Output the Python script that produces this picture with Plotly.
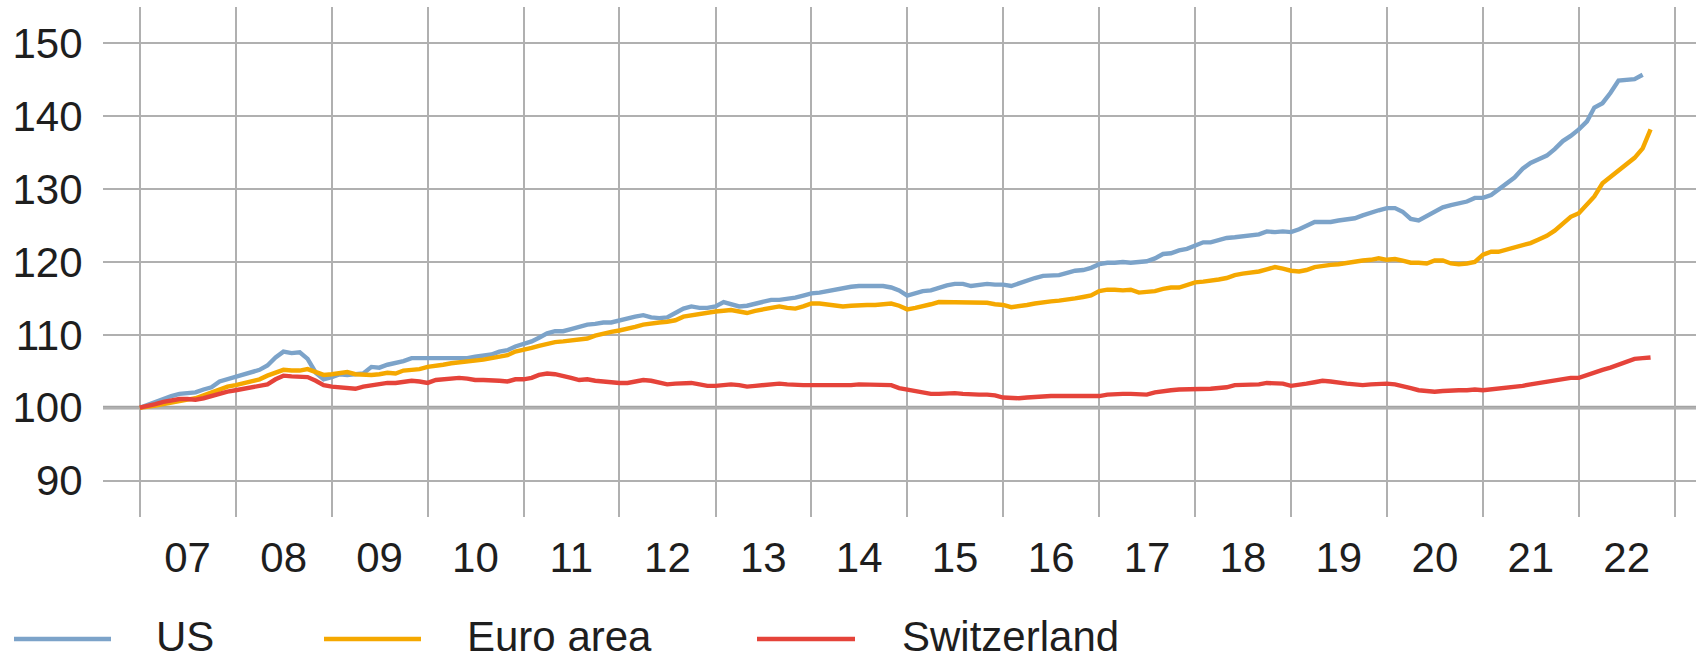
import pandas as pd
import plotly.graph_objects as go

# ---- data (index, Jan 2007 = 100, monthly) ----
year_labels = ["07", "08", "09", "10", "11", "12", "13", "14", "15", "16", "17", "18", "19", "20", "21", "22"]
y_ticks = [90, 100, 110, 120, 130, 140, 150]

us = [
    100.0, 100.4, 100.9, 101.2, 101.6, 101.9, 102.0, 102.1, 102.5, 102.8, 103.6, 103.9,
    104.3, 104.5, 104.9, 105.2, 105.8, 106.9, 107.7, 107.5, 107.6, 106.7, 104.8, 103.9,
    104.2, 104.6, 104.5, 104.6, 104.7, 105.6, 105.5, 105.9, 106.1, 106.4, 106.8, 106.8,
    106.9, 106.8, 106.8, 106.9, 106.8, 106.8, 107.0, 107.1, 107.3, 107.7, 107.9, 108.4,
    108.7, 109.1, 109.6, 110.2, 110.5, 110.5, 110.8, 111.1, 111.4, 111.5, 111.7, 111.7,
    112.0, 112.2, 112.5, 112.7, 112.4, 112.3, 112.4, 113.0, 113.6, 113.9, 113.7, 113.7,
    113.9, 114.5, 114.2, 113.9, 114.0, 114.3, 114.5, 114.8, 114.8, 114.9, 115.1, 115.4,
    115.7, 115.8, 116.0, 116.2, 116.5, 116.6, 116.7, 116.7, 116.7, 116.7, 116.5, 116.1,
    115.4, 115.7, 116.0, 116.1, 116.5, 116.8, 117.0, 117.0, 116.7, 116.9, 117.0, 116.9,
    116.9, 116.7, 117.1, 117.4, 117.8, 118.1, 118.2, 118.2, 118.5, 118.8, 118.9, 119.2,
    119.7, 119.9, 119.9, 120.0, 119.9, 120.0, 120.1, 120.5, 121.1, 121.2, 121.6, 121.8,
    122.3, 122.7, 122.7, 123.0, 123.3, 123.4, 123.5, 123.7, 123.8, 124.2, 124.1, 124.2,
    124.1, 124.5, 125.0, 125.5, 125.5, 125.5, 125.7, 125.9, 126.0, 126.4, 126.8, 127.1,
    127.4, 127.4, 126.9, 125.9, 125.7, 126.3, 127.0, 127.5, 127.8, 128.0, 128.3, 128.8,
    128.8, 129.2, 130.0, 130.8, 131.6, 132.8, 133.6, 134.1, 134.6, 135.5, 136.6, 137.3,
    138.2, 139.3, 141.2, 141.8, 143.2, 144.9, 145.0, 145.1, 145.7,
]

euro = [
    100.0, 100.1, 100.3, 100.5, 100.7, 101.0, 101.1, 101.3, 101.7, 102.1, 102.6, 102.9,
    103.1, 103.4, 103.7, 103.9, 104.4, 104.8, 105.2, 105.1, 105.1, 105.3, 104.9, 104.5,
    104.6, 104.8, 104.9, 104.6, 104.5, 104.5, 104.6, 104.8, 104.7, 105.1, 105.2, 105.3,
    105.6, 105.7, 105.9, 106.1, 106.2, 106.4, 106.5, 106.6, 106.8, 107.0, 107.2, 107.7,
    107.9, 108.2, 108.5, 108.8, 109.0, 109.1, 109.2, 109.3, 109.5, 109.9, 110.2, 110.4,
    110.6, 110.8, 111.1, 111.4, 111.6, 111.7, 111.8, 112.0, 112.5, 112.7, 112.8, 113.0,
    113.2, 113.3, 113.4, 113.2, 113.0, 113.3, 113.5, 113.7, 113.9, 113.7, 113.6, 113.9,
    114.3, 114.3, 114.2, 114.0, 113.9, 114.0, 114.1, 114.1, 114.1, 114.2, 114.3, 114.0,
    113.5, 113.7, 113.9, 114.2, 114.5, 114.5, 114.5, 114.5, 114.4, 114.5, 114.4, 114.2,
    114.1, 113.8, 113.9, 114.1, 114.3, 114.5, 114.6, 114.7, 114.8, 115.0, 115.2, 115.4,
    116.0, 116.2, 116.2, 116.1, 116.2, 115.8, 115.9, 116.0, 116.3, 116.5, 116.5, 116.8,
    117.2, 117.3, 117.4, 117.6, 117.8, 118.2, 118.4, 118.5, 118.7, 119.0, 119.3, 119.1,
    118.8, 118.7, 118.9, 119.3, 119.5, 119.6, 119.7, 119.9, 120.1, 120.2, 120.3, 120.5,
    120.3, 120.4, 120.2, 119.9, 119.9, 119.8, 120.2, 120.2, 119.8, 119.7, 119.8, 120.0,
    121.0, 121.4, 121.4, 121.7, 122.0, 122.4, 122.6, 123.1, 123.6, 124.3, 125.2, 126.2,
    126.7, 127.8, 129.0, 130.8, 131.7, 132.6, 133.4, 134.3, 135.6, 138.2,
]

switzerland = [
    100.0, 100.2, 100.5, 100.8, 101.0, 101.2, 101.2, 101.1, 101.3, 101.6, 102.0, 102.2,
    102.4, 102.6, 102.8, 103.1, 103.2, 103.9, 104.4, 104.3, 104.2, 104.2, 103.7, 103.1,
    102.9, 102.8, 102.6, 102.6, 102.9, 103.1, 103.2, 103.4, 103.4, 103.5, 103.7, 103.6,
    103.4, 103.8, 103.9, 104.0, 104.1, 104.0, 103.8, 103.8, 103.8, 103.7, 103.6, 103.9,
    103.9, 104.1, 104.5, 104.7, 104.6, 104.4, 104.1, 103.8, 103.9, 103.7, 103.6, 103.4,
    103.4, 103.4, 103.6, 103.8, 103.7, 103.5, 103.2, 103.3, 103.4, 103.4, 103.2, 103.0,
    103.0, 103.1, 103.2, 103.1, 102.9, 103.0, 103.1, 103.2, 103.3, 103.2, 103.1, 103.1,
    103.1, 103.1, 103.0, 103.0, 103.1, 103.1, 103.2, 103.2, 103.1, 103.1, 103.1, 102.7,
    102.5, 102.3, 102.1, 101.9, 101.9, 102.0, 102.0, 101.9, 101.8, 101.8, 101.8, 101.7,
    101.4, 101.3, 101.3, 101.4, 101.5, 101.6, 101.6, 101.6, 101.6, 101.6, 101.6, 101.6,
    101.6, 101.8, 101.9, 101.9, 101.9, 101.8, 101.8, 102.1, 102.3, 102.4, 102.5, 102.5,
    102.5, 102.6, 102.6, 102.7, 102.8, 103.1, 103.1, 103.2, 103.2, 103.4, 103.4, 103.3,
    103.0, 103.1, 103.3, 103.5, 103.7, 103.6, 103.4, 103.3, 103.2, 103.1, 103.2, 103.3,
    103.3, 103.2, 103.0, 102.7, 102.4, 102.3, 102.2, 102.3, 102.4, 102.4, 102.4, 102.5,
    102.4, 102.5, 102.7, 102.8, 102.9, 103.0, 103.2, 103.4, 103.6, 103.7, 103.9, 104.1,
    104.1, 104.5, 104.9, 105.2, 105.5, 105.9, 106.4, 106.7, 106.8, 106.9,
]

series_names = ["US", "Euro area", "Switzerland"]
series_values = [us, euro, switzerland]
series_colors = ["#7CA3C9", "#F5A800", "#E5433A"]

FONT = "Liberation Sans, Arial, sans-serif"
TEXT = "#1e1e1e"
GRID = "#b0b0b0"

fig = go.Figure()
for name, vals, col in zip(series_names, series_values, series_colors):
    dates = pd.date_range("2007-01-01", periods=len(vals), freq="MS")
    fig.add_trace(go.Scatter(x=dates, y=vals, mode="lines", name=name,
                             line=dict(color=col, width=4.4)))

W, H = 1696, 661
ML, MR, MT, MB = 103, 0, 7, 144
pw, ph = W - ML - MR, H - MT - MB

fig.update_layout(
    width=W, height=H,
    margin=dict(l=ML, r=MR, t=MT, b=MB),
    plot_bgcolor="white", paper_bgcolor="white",
    showlegend=False,
    font=dict(family=FONT, size=42, color=TEXT),
)

fig.update_xaxes(
    type="date",
    range=["2006-08-14", "2023-03-23"],
    tickmode="array",
    tickvals=[f"{2007 + i}-07-02" for i in range(len(year_labels))],
    ticktext=year_labels,
    showgrid=False, zeroline=False, showline=False,
    ticks="outside", ticklen=4, tickcolor="rgba(0,0,0,0)",
    minor=dict(tickvals=[f"{y}-01-01" for y in range(2007, 2024)],
               showgrid=True, gridcolor=GRID, gridwidth=1.5, ticks=""),
)
fig.update_yaxes(
    range=[85, 155],
    tickmode="array", tickvals=y_ticks,
    showgrid=True, gridcolor=GRID, gridwidth=1.5,
    zeroline=False, showline=False,
    ticks="outside", ticklen=11, tickcolor="rgba(0,0,0,0)",
)

# emphasised base line at 100
fig.add_shape(type="line", xref="paper", x0=0, x1=1, yref="y", y0=100, y1=100,
              line=dict(color="#a3a3a3", width=3.8), layer="below")

# custom legend below the chart
def px_x(px):
    return (px - ML) / pw

def px_y(py):
    return (MT + ph - py) / ph

legend_items = [
    (14, 111, 154),
    (324, 421, 465),
    (757, 855, 900),
]
line_y = 639
text_y = 636
for (x0, x1, tx), name, col in zip(legend_items, series_names, series_colors):
    fig.add_shape(type="line", xref="paper", yref="paper",
                  x0=px_x(x0), x1=px_x(x1), y0=px_y(line_y), y1=px_y(line_y),
                  line=dict(color=col, width=4.4))
    fig.add_annotation(xref="paper", yref="paper", x=px_x(tx), y=px_y(text_y),
                       text=name, showarrow=False, xanchor="left", yanchor="middle",
                       height=36, valign="middle",
                       font=dict(family=FONT, size=42, color=TEXT))

fig.write_html(
    "out.html",
    config={"displayModeBar": False},
    post_script="document.body.style.margin='0';document.body.style.overflow='hidden';",
)
